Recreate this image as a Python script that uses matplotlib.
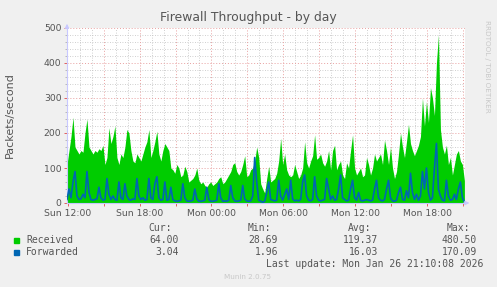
import matplotlib
matplotlib.use('Agg')
import matplotlib.pyplot as plt
import numpy as np

# ---- data (packets/second, 10-minute samples from Sun ~11:57) ----
received = [110,150,190,245,160,150,140,150,145,200, 240,160,150,140,150,145,155,150,165,110,
            130,215,170,190,220,130,110,140,130,160, 210,200,150,120,115,140,130,120,140,160,
            175,210,130,150,175,205,140,120,150,170,
            160,150,100,95,85,110,100,75,80,105, 90,60,65,70,80,100,65,55,60,50,
            45,55,60,50,55,60,70,75,55,60, 70,80,90,110,115,90,80,90,110,135,
            75,80,95,100,120,160,130,55,40,28.69,
            70,105,60,65,70,85,120,185,110,140, 95,80,75,80,110,90,70,80,100,175,
            115,100,120,135,195,125,130,140,115,105, 120,150,95,150,165,95,110,120,80,70,
            115,100,150,195,100,80,90,100,75,80,
            130,110,80,100,140,120,130,140,110,180, 150,110,160,100,70,90,140,200,160,130,
            175,225,170,150,135,150,165,190,300,220, 290,230,330,300,250,400,480.5,210,160,140,
            165,110,130,80,110,140,150,120,110,64.0]
forwarded = [10,40,15,60,90,20,10,12,25,15, 90,30,10,8,10,12,45,15,8,10,
             70,25,10,20,10,8,60,15,10,55, 20,10,8,12,10,70,20,10,15,8,
             10,70,15,10,55,75,15,8,10,60,
             8,10,45,10,6,5,6,8,55,15, 6,5,6,8,40,12,5,5,6,8,
             45,10,5,5,6,8,55,15,5,6, 5,8,50,15,6,5,6,8,50,12,
             6,5,6,20,130,60,8,5,1.96,5,
             30,60,10,8,6,8,65,20,8,25, 40,10,65,12,6,8,6,10,60,80,
             20,8,6,10,75,20,8,6,8,10, 70,40,10,20,8,10,40,80,15,10,
             6,8,40,65,15,8,30,8,6,8,
             10,8,6,8,40,65,15,8,6,10, 40,65,15,6,5,8,30,45,10,8,
             35,15,85,30,10,25,8,20,90,40, 100,30,8,15,100,170.09,40,20,8,6,
             65,20,8,10,25,10,40,60,15,3.04]
start_hour = -0.058          # hours relative to Sun 12:00
step_hour = 1.0 / 6.0        # 10 minutes
tick_hours = [0, 6, 12, 18, 24, 30]
tick_labels = ["Sun 12:00", "Sun 18:00", "Mon 00:00", "Mon 06:00", "Mon 12:00", "Mon 18:00"]
y_ticks = [0, 100, 200, 300, 400, 500]
series_names = ["Received", "Forwarded"]
series_colors = ["#00CC00", "#0066B3"]
cur_vals = ["64.00", "3.04"]
min_vals = ["28.69", "1.96"]
avg_vals = ["119.37", "16.03"]
max_vals = ["480.50", "170.09"]
title = "Firewall Throughput - by day"
ylabel = "Packets/second"
last_update = "Last update: Mon Jan 26 21:10:08 2026"
version = "Munin 2.0.75"
side_text = "RRDTOOL / TOBI OETIKER"

# ---- figure ----
W, H = 497, 287
fig = plt.figure(figsize=(W / 100, H / 100), dpi=100, facecolor="#F0F0F0")
ax = fig.add_axes([67 / W, 1 - 203 / H, (465 - 67) / W, (203 - 28) / H])
ax.set_facecolor("white")

t = start_hour + step_hour * np.arange(len(received))
x_end = t[-1] + step_hour * 0.3
ax.set_xlim(start_hour, x_end)
ax.set_ylim(0, 500)

# grid
for yv in range(20, 500, 20):
    if yv % 100:
        ax.axhline(yv, color="#C0C0C0", lw=0.6, ls=(0, (1, 2)), zorder=0)
for yv in range(100, 501, 100):
    ax.axhline(yv, color="#E8A0A0", lw=0.7, ls=(0, (1, 2)), zorder=0.5)
for hv in range(1, 34):
    if hv % 3:
        ax.axvline(hv, color="#C0C0C0", lw=0.6, ls=(0, (1, 2)), zorder=0)
for hv in range(3, 34, 3):
    ax.axvline(hv, color="#E8A0A0", lw=0.7, ls=(0, (1, 2)), zorder=0.5)

ax.fill_between(t, 0, received, color=series_colors[0], lw=0, zorder=2)
ax.plot(t, forwarded, color=series_colors[1], lw=1.2, zorder=3)

for s in ["top", "right"]:
    ax.spines[s].set_visible(False)
for s in ["left", "bottom"]:
    ax.spines[s].set_color("#C8C8FF")
    ax.spines[s].set_linewidth(0.8)

ax.set_xticks(tick_hours)
ax.set_xticklabels(tick_labels)
ax.set_xticks(list(range(3, 34, 6)), minor=True)
ax.set_yticks(y_ticks)
ax.set_yticklabels([str(v) for v in y_ticks])
ax.set_yticks([v for v in range(20, 500, 20) if v % 100], minor=True)
ax.tick_params(axis="both", which="major", colors="#E06060", length=2, width=0.7,
               labelcolor="#555555", labelsize=6.7, pad=2)
ax.tick_params(axis="x", which="minor", colors="#E06060", length=2, width=0.7)
ax.tick_params(axis="y", which="minor", colors="#B0B0B0", length=1.5, width=0.6)

# arrows
ax.annotate("", xy=(0, 1.04), xytext=(0, 0.98), xycoords="axes fraction",
            arrowprops=dict(arrowstyle="-|>", color="#C8C8FF", lw=0.8,
                            mutation_scale=6), annotation_clip=False)
ax.annotate("", xy=(1.018, 0), xytext=(0.99, 0), xycoords="axes fraction",
            arrowprops=dict(arrowstyle="-|>", color="#C8C8FF", lw=0.8,
                            mutation_scale=6), annotation_clip=False)

fig.text(248 / W, 1 - 18 / H, title, ha="center", va="center", fontsize=8.9, color="#555555")
fig.text(10 / W, 1 - 115 / H, ylabel, ha="center", va="center", rotation=90,
         fontsize=8, color="#555555")
fig.text(487 / W, 1 - 20 / H, side_text, ha="center", va="top", rotation=-90,
         fontsize=5.2, color="#C8C8C8")

# legend
mono = "DejaVu Sans Mono"
fs = 7
hdr_y = 1 - 228 / H
fig.text(172 / W, hdr_y, "Cur:", ha="right", va="center", family=mono, fontsize=fs, color="#555555")
fig.text(271 / W, hdr_y, "Min:", ha="right", va="center", family=mono, fontsize=fs, color="#555555")
fig.text(371 / W, hdr_y, "Avg:", ha="right", va="center", family=mono, fontsize=fs, color="#555555")
fig.text(470 / W, hdr_y, "Max:", ha="right", va="center", family=mono, fontsize=fs, color="#555555")
row_ys = [240, 252]
for i in range(2):
    yy = 1 - row_ys[i] / H
    fig.patches.append(plt.Rectangle((14 / W, yy - 2.5 / H), 5 / W, 5 / H,
                                     transform=fig.transFigure, color=series_colors[i]))
    fig.text(26 / W, yy, series_names[i], ha="left", va="center", family=mono, fontsize=fs, color="#555555")
    fig.text(179 / W, yy, cur_vals[i], ha="right", va="center", family=mono, fontsize=fs, color="#555555")
    fig.text(278 / W, yy, min_vals[i], ha="right", va="center", family=mono, fontsize=fs, color="#555555")
    fig.text(378 / W, yy, avg_vals[i], ha="right", va="center", family=mono, fontsize=fs, color="#555555")
    fig.text(477 / W, yy, max_vals[i], ha="right", va="center", family=mono, fontsize=fs, color="#555555")
fig.text(483 / W, 1 - 264 / H, last_update, ha="right", va="center", family=mono, fontsize=fs, color="#555555")
fig.text(248 / W, 1 - 277 / H, version, ha="center", va="center", fontsize=5.2, color="#C8C8C8")

fig.savefig("out.png", dpi=100, facecolor=fig.get_facecolor())
